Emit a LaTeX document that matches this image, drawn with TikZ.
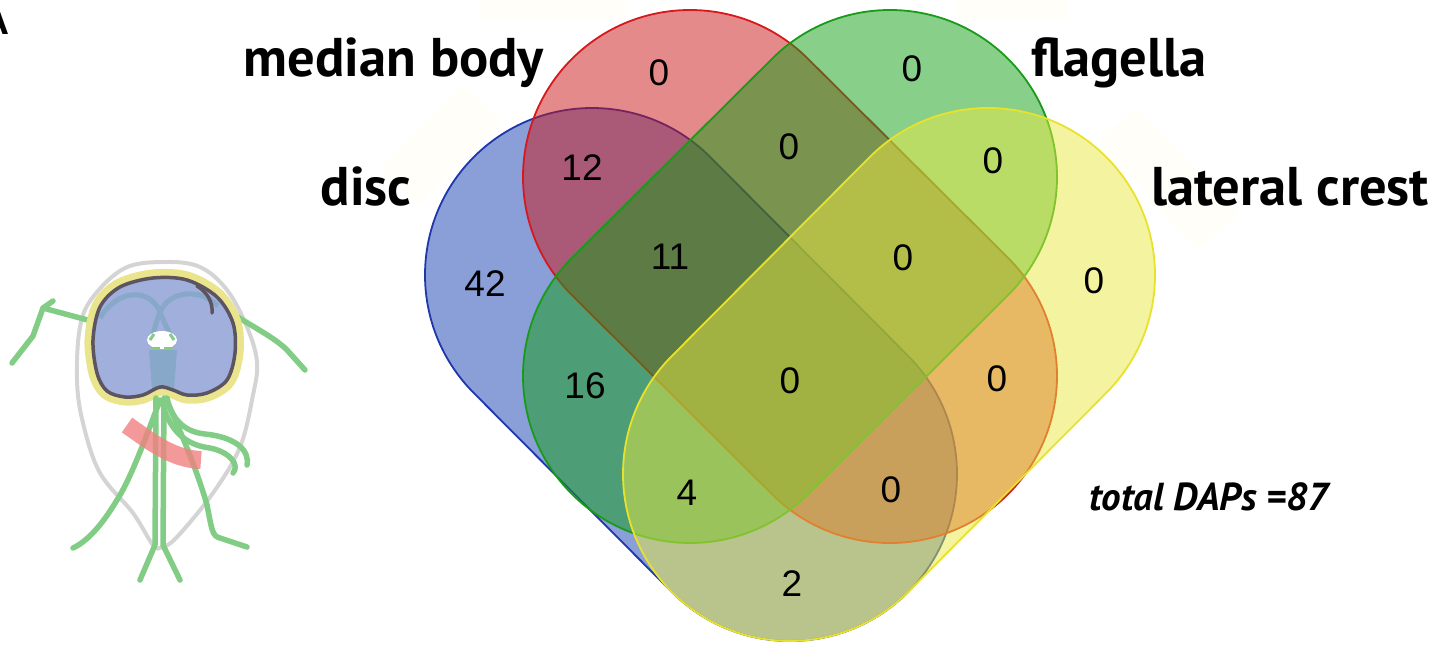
\documentclass[tikz,border=0pt]{standalone}
\usepackage{fontspec}
\setmainfont{Liberation Sans}
\newfontfamily\labelfont{PT Sans}
\usetikzlibrary{calc}

% set colours (fills are laid down at half opacity)
\definecolor{discC}{RGB}{21,61,177}
\definecolor{discL}{RGB}{30,55,170}
\definecolor{medC}{RGB}{203,21,21}
\definecolor{medL}{RGB}{215,25,30}
\definecolor{flaC}{RGB}{17,159,21}
\definecolor{flaL}{RGB}{25,155,25}
\definecolor{latC}{RGB}{233,233,65}
\definecolor{latL}{RGB}{232,226,45}
\definecolor{ghost}{RGB}{255,254,248}
% cell sketch colours
\definecolor{cellgrey}{RGB}{212,212,212}
\definecolor{flag}{RGB}{130,205,133}
\definecolor{halo}{RGB}{234,228,140}
\definecolor{discfill}{RGB}{161,175,221}
\definecolor{discedge}{RGB}{92,84,96}
\definecolor{axon}{RGB}{135,168,200}
\definecolor{mbody}{RGB}{240,128,128}

% capsule-shaped set: end centres #1 and #2, axis angle #3, style #4
\newcommand{\vennlobe}[4]{%
  \path[#4] ($(#1)+(#3-90:167)$) -- ($(#2)+(#3-90:167)$)
    arc[start angle=#3-90, end angle=#3+90, radius=167]
    -- ($(#1)+(#3+90:167)$)
    arc[start angle=#3+90, end angle=#3+270, radius=167] -- cycle;}

\tikzset{
  lobe/.style={fill=#1C, draw=#1L, fill opacity=0.5, line width=1.8pt},
  count/.style={font=\fontsize{37}{40}\selectfont, inner sep=0pt},
  setlabel/.style={font=\labelfont\bfseries\fontsize{54.5}{60}\selectfont, inner sep=0pt, anchor=base},
  fl/.style={draw=flag, line width=5.5pt, line cap=round, line join=round},
}

\begin{document}
\begin{tikzpicture}[x=1pt,y=-1pt]
\useasboundingbox (0,0) rectangle (1445,645);
\clip (0,0) rectangle (1445,645);

% faint backing patches
\fill[ghost] (461,86) -- (502,120) -- (420,205) -- (380,170) -- cycle;
\fill[ghost] (1137,107) -- (1240,213) -- (1197,250) -- (1097,140) -- cycle;
\fill[ghost] (480,0) rectangle (625,20);
\fill[ghost] (955,0) rectangle (1067,20);

% ---------- four-set diagram ----------
\coordinate (dT) at (592,275);  \coordinate (dB) at (790,474);
\coordinate (mT) at (690,177);  \coordinate (mB) at (890,376);
\coordinate (fT) at (890,177);  \coordinate (fB) at (690,376);
\coordinate (cT) at (988,275);  \coordinate (cB) at (790,474);

\vennlobe{dT}{dB}{45}{lobe=disc}
\vennlobe{mT}{mB}{45}{lobe=med}
\vennlobe{fT}{fB}{135}{lobe=fla}
\vennlobe{cT}{cB}{135}{lobe=lat}

% region counts
\node[count] (c1)  at (659,73)  {0};
\node[count] (c2)  at (912,69)  {0};
\node[count] (c3)  at (582,168) {12};
\node[count] (c4)  at (789,147) {0};
\node[count] (c5)  at (993,161) {0};
\node[count] (c6)  at (485,284) {42};
\node[count] (c7)  at (670,257) {11};
\node[count] (c8)  at (903,258) {0};
\node[count] (c9)  at (1094,281) {0};
\node[count] (c10) at (585,386) {16};
\node[count] (c11) at (790,381) {0};
\node[count] (c12) at (997,379) {0};
\node[count] (c13) at (687,493) {4};
\node[count] (c14) at (891,490) {0};
\node[count] (c15) at (792,584) {2};

% set names
\node[setlabel] (lmed) at (394,76)   {median body};
\node[setlabel] (lfla) at (1119,76)  {flagella};
\node[setlabel] (ldis) at (366,205)  {disc};
\node[setlabel] (llat) at (1290,205) {lateral crest};
\node[font=\labelfont\bfseries\itshape\fontsize{39}{44}\selectfont, inner sep=0pt, anchor=base]
  (ltot) at (1209,510) {total DAPs =87};
\node[font=\labelfont\bfseries\fontsize{38}{40}\selectfont, inner sep=0pt, anchor=base east]
  (panel) at (9,34) {A};

% ---------- cell sketch ----------
% cell outline
\draw[cellgrey, line width=4pt] plot[smooth cycle, tension=0.6] coordinates {
  (165,262) (200,267) (227,290) (247,327) (257,362) (253,395) (240,447)
  (213,493) (177,537) (162,547) (153,545) (133,513) (100,473) (83,423)
  (77,380) (80,327) (93,297) (125,268)};

% anterior flagella
\draw[fl] (95,322) -- (43,308) -- (33,336) -- (12,363);
\draw[fl] (43,308) -- (53,301);
\draw[fl] (228,311) .. controls (255,328) and (275,338) .. (287,350) -- (305,370);

% adhesive disc with its rim
\def\discshape{plot[smooth cycle, tension=0.55] coordinates {
  (160,387) (143,395) (125,397) (107,391) (97,373) (93,340) (100,307)
  (120,287) (153,278) (187,280) (217,297) (233,323) (235,353) (227,380)
  (207,393) (187,395) (173,390)}}
\draw[halo, line width=17pt] \discshape;
\fill[discfill] \discshape;
% ventral flagella seen through the disc
\draw[axon, line width=5pt] (100,318) .. controls (118,288) and (150,288) .. (160,312) .. controls (165,325) and (170,333) .. (172,342);
\draw[axon, line width=5pt] (218,306) .. controls (200,288) and (170,290) .. (160,312) .. controls (156,322) and (153,333) .. (152,342);
\fill[white] (162,340) ellipse[x radius=15, y radius=9];
\draw[flag, line width=3pt] (152,348) -- (160,348) (164,348) -- (174,348);
\draw[flag, line width=3pt] (150,340) -- (154,334) (170,334) -- (174,340);
\fill[axon] (149,350) -- (177,350) -- (174,389) -- (152,389) -- cycle;
\draw[discedge, line width=3.5pt] \discshape;
\draw[discedge, line width=3.5pt, line cap=round] (197,286) .. controls (207,292) and (213,302) .. (212,313);

% posterior flagella
\draw[fl] (156,398) -- (155,545) -- (140,580);
\draw[fl] (164,398) -- (163,545) -- (180,580);
\draw[fl] (160,400) .. controls (145,440) and (130,480) .. (117,500) .. controls (105,520) and (90,540) .. (73,548);
\draw[fl] (166,400) .. controls (185,440) and (200,480) .. (207,505) .. controls (212,530) and (212,536) .. (220,538) -- (247,547);
\draw[fl] (167,398) .. controls (172,420) and (185,432) .. (205,434) .. controls (235,437) and (250,450) .. (247,465);
\draw[fl] (163,405) .. controls (170,430) and (185,445) .. (210,448) .. controls (230,452) and (240,465) .. (233,473);

% median body
\draw[mbody, opacity=0.8, line width=18pt] (127,425) .. controls (150,441) and (172,459) .. (201,460);

\end{tikzpicture}
\end{document}
